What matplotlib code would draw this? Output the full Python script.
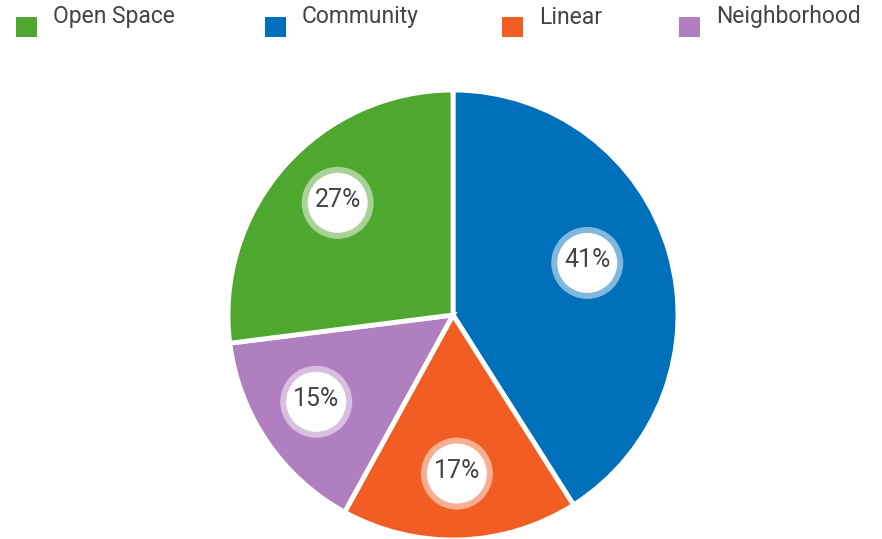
import numpy as np
import matplotlib
matplotlib.use('Agg')
import matplotlib.pyplot as plt
from matplotlib.patches import Circle, Rectangle
from matplotlib.colors import to_rgb

plt.rcParams['font.family'] = ['Roboto', 'DejaVu Sans']

# Data (pie order, clockwise from top)
categories = ['Community', 'Linear', 'Neighborhood', 'Open Space']
shares = [41, 17, 15, 27]
colors = ['#0070BA', '#F15D22', '#B07FC0', '#4EA72E']

# Legend order
legend_names = ['Open Space', 'Community', 'Linear', 'Neighborhood']
legend_colors = ['#4EA72E', '#0070BA', '#F15D22', '#B07FC0']

# badge placement tweaks (angle shift in degrees, radius as fraction)
badge_shift = [5, -0.4, -1.8, -2.8]
badge_r = [0.64, 0.705, 0.72, 0.715]

W, H = 882, 539
fig = plt.figure(figsize=(W / 100, H / 100), dpi=100)

# pie axes: centre (453, 315) px from top, radius 225 px
cx, cy, R = 453, 315, 225
ax = fig.add_axes([(cx - R) / W, (H - cy - R) / H, 2 * R / W, 2 * R / H])

wedges, _ = ax.pie(shares, colors=colors, startangle=90, counterclock=False,
                   radius=1, wedgeprops=dict(edgecolor='white', linewidth=3.5))
ax.set_xlim(-1, 1)
ax.set_ylim(-1, 1)
ax.set_aspect('equal')
ax.axis('off')

# percent badges
total = sum(shares)
for w, val, col, sh, rr in zip(wedges, shares, colors, badge_shift, badge_r):
    mid = np.deg2rad((w.theta1 + w.theta2) / 2 + sh)
    x, y = rr * np.cos(mid), rr * np.sin(mid)
    light = tuple(0.5 * c + 0.5 for c in to_rgb(col))
    ax.add_patch(Circle((x, y), 33 / R, facecolor='white', edgecolor=light,
                        linewidth=4.3, zorder=3))
    ax.text(x, y + 3 / R, f'{round(100 * val / total)}%', ha='center', va='center',
            fontsize=18, color='#444444', zorder=4)

# legend across the top
legend_x = [16, 265, 502, 679]
for name, col, lx in zip(legend_names, legend_colors, legend_x):
    fig.patches.append(Rectangle((lx / W, (H - 37) / H), 21 / W, 20 / H,
                                 facecolor=col, edgecolor='none',
                                 transform=fig.transFigure, figure=fig))
    fig.text((lx + 37) / W, (H - 17) / H, name, ha='left', va='center',
             fontsize=16.5, color='#444444')

fig.savefig('out.png', dpi=100, facecolor='white')
